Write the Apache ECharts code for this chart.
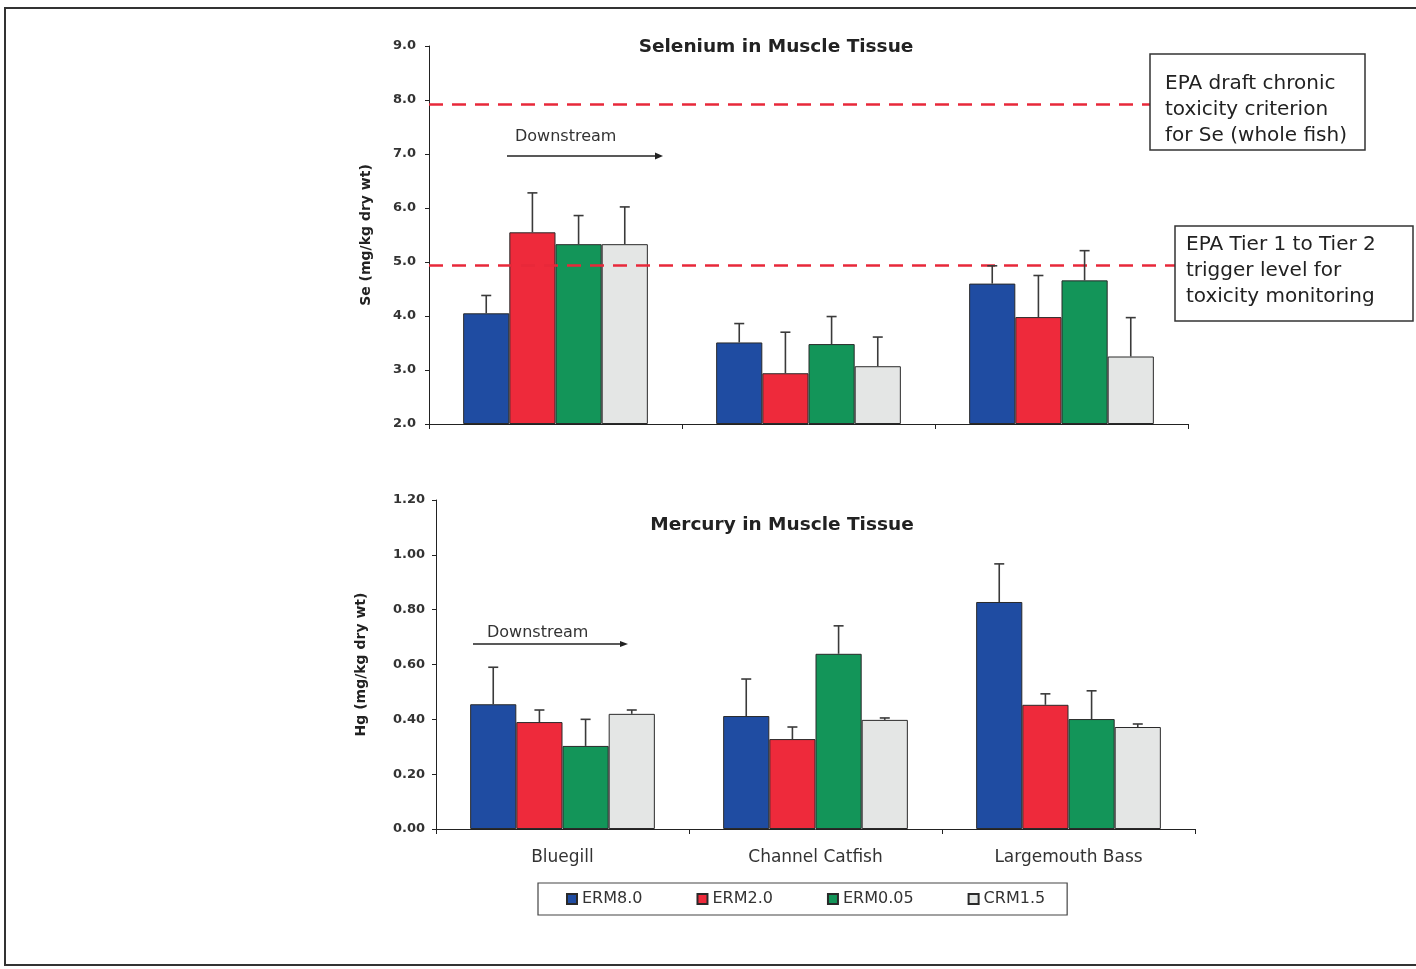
<!DOCTYPE html>
<html>
<head>
<meta charset="utf-8">
<script src="https://cdn.jsdelivr.net/npm/echarts@6/dist/echarts.min.js"></script>
<style>
html,body{margin:0;padding:0;background:#fff;}
#c{width:1416px;height:969px;}
</style>
</head>
<body>
<div id="c"></div>
<script>
// ---- data ----
const categories = ['Bluegill', 'Channel Catfish', 'Largemouth Bass'];
const seriesNames = ['ERM8.0', 'ERM2.0', 'ERM0.05', 'CRM1.5'];
// Selenium means (mg/kg dry wt), per series, per category
const seERM80 = [4.05, 3.51, 4.60];
const seERM20 = [5.55, 2.94, 3.98];
const seERM005 = [5.33, 3.48, 4.66];
const seCRM15 = [5.33, 3.07, 3.25];
// Selenium upper error (amount above mean)
const seErrERM80 = [0.33, 0.35, 0.33];
const seErrERM20 = [0.73, 0.76, 0.77];
const seErrERM005 = [0.53, 0.51, 0.55];
const seErrCRM15 = [0.69, 0.54, 0.72];
// Mercury means
const hgERM80 = [0.455, 0.412, 0.828];
const hgERM20 = [0.390, 0.328, 0.453];
const hgERM005 = [0.303, 0.639, 0.401];
const hgCRM15 = [0.420, 0.398, 0.372];
// Mercury upper error
const hgErrERM80 = [0.135, 0.135, 0.139];
const hgErrERM20 = [0.044, 0.044, 0.040];
const hgErrERM005 = [0.097, 0.102, 0.103];
const hgErrCRM15 = [0.014, 0.007, 0.011];
// reference levels (Se)
const seChronicCriterion = 7.93;
const seTriggerLevel = 4.94;
// axis ticks
const seTicks = {min: 2, max: 9, interval: 1};
const hgTicks = {min: 0, max: 1.2, interval: 0.2};

const colors = ['#1F4CA2', '#EE2A3B', '#139559', '#E4E6E5'];
const barGapRatio = 0.27;
const FONT = 'DejaVu Sans, Liberation Sans, Arial, sans-serif';

const seMeans = [seERM80, seERM20, seERM005, seCRM15];
const seErrs = [seErrERM80, seErrERM20, seErrERM005, seErrCRM15];
const hgMeans = [hgERM80, hgERM20, hgERM005, hgCRM15];
const hgErrs = [hgErrERM80, hgErrERM20, hgErrERM005, hgErrCRM15];

function errData(means, errs) {
  const out = [];
  means.forEach((arr, s) => arr.forEach((m, c) => out.push([c, m + errs[s][c], m, s])));
  return out;
}
function errRender(params, api) {
  const c = api.value(0), top = api.value(1), mean = api.value(2), s = api.value(3);
  const pt = api.coord([c, top]);
  const pb = api.coord([c, mean]);
  const band = api.size([1, 0])[0];
  const bw = band * (1 - barGapRatio) / 4;
  const x = pt[0] + (s - 1.5) * bw;
  const st = {stroke: '#3a3a3a', lineWidth: 1.6};
  return {type: 'group', children: [
    {type: 'line', shape: {x1: x, y1: pb[1], x2: x, y2: pt[1]}, style: st},
    {type: 'line', shape: {x1: x - 5, y1: pt[1], x2: x + 5, y2: pt[1]}, style: st}
  ]};
}

function makeBars(means, gi) {
  return means.map((arr, s) => ({
    name: seriesNames[s], type: 'bar', xAxisIndex: gi, yAxisIndex: gi,
    data: arr, barGap: '0%', barCategoryGap: (barGapRatio * 100) + '%',
    itemStyle: {color: colors[s], borderColor: '#2a2a2a', borderWidth: 1},
    emphasis: {disabled: true}, z: 2
  }));
}

const dashed = {color: '#E8283A', width: 2.5, type: [14, 9]};
const bars0 = makeBars(seMeans, 0);
bars0[0].markLine = {
  silent: true, symbol: 'none', label: {show: false},
  lineStyle: dashed,
  data: [{yAxis: seChronicCriterion}, {yAxis: seTriggerLevel}]
};

const tickLabel = {fontSize: 13, fontWeight: 'bold', color: '#333', fontFamily: FONT};
const nameStyle = {fontSize: 14, fontWeight: 'bold', color: '#222', fontFamily: FONT};

const option = {
  animation: false,
  backgroundColor: '#fff',
  textStyle: {fontFamily: FONT},
  grid: [
    {left: 429, top: 46, right: 228, bottom: 545},
    {left: 436, top: 500, right: 221, bottom: 140}
  ],
  xAxis: [
    {type: 'category', gridIndex: 0, data: categories,
      axisLine: {lineStyle: {color: '#222', width: 1}},
      axisTick: {show: true, length: 5, lineStyle: {color: '#222'}},
      axisLabel: {show: false}},
    {type: 'category', gridIndex: 1, data: categories,
      axisLine: {lineStyle: {color: '#222', width: 1}},
      axisTick: {show: true, length: 5, lineStyle: {color: '#222'}},
      axisLabel: {show: true, margin: 20, fontSize: 17, color: '#333', fontFamily: FONT}}
  ],
  yAxis: [
    {type: 'value', gridIndex: 0, min: seTicks.min, max: seTicks.max, interval: seTicks.interval, startValue: seTicks.min,
      name: 'Se (mg/kg dry wt)', nameLocation: 'middle', nameGap: 56, nameRotate: 90,
      nameTextStyle: nameStyle,
      axisLine: {show: true, lineStyle: {color: '#222', width: 1}},
      axisTick: {show: true, length: 4, lineStyle: {color: '#222'}},
      splitLine: {show: false},
      axisLabel: Object.assign({margin: 13, formatter: v => v.toFixed(1)}, tickLabel)},
    {type: 'value', gridIndex: 1, min: hgTicks.min, max: hgTicks.max, interval: hgTicks.interval,
      name: 'Hg (mg/kg dry wt)', nameLocation: 'middle', nameGap: 68, nameRotate: 90,
      nameTextStyle: nameStyle,
      axisLine: {show: true, lineStyle: {color: '#222', width: 1}},
      axisTick: {show: true, length: 4, lineStyle: {color: '#222'}},
      splitLine: {show: false},
      axisLabel: Object.assign({margin: 11, formatter: v => v.toFixed(2)}, tickLabel)}
  ],
  legend: {
    data: seriesNames, left: 538, top: 883,
    padding: [8, 22, 8, 28], itemGap: 54, itemWidth: 10, itemHeight: 10,
    borderColor: '#444', borderWidth: 1.2, borderRadius: 0,
    textStyle: {fontSize: 16, color: '#333', fontFamily: FONT},
    icon: 'rect'
  },
  series: [
    ...bars0,
    ...makeBars(hgMeans, 1),
    {type: 'custom', xAxisIndex: 0, yAxisIndex: 0, data: errData(seMeans, seErrs), renderItem: errRender, z: 5, silent: true},
    {type: 'custom', xAxisIndex: 1, yAxisIndex: 1, data: errData(hgMeans, hgErrs), renderItem: errRender, z: 5, silent: true}
  ],
  graphic: [
    // page frame
    {type: 'rect', shape: {x: 5, y: 8, width: 1430, height: 957}, style: {fill: null, stroke: '#333', lineWidth: 2}, z: 100},
    // titles
    {type: 'text', x: 776, y: 47, style: {text: 'Selenium in Muscle Tissue', font: 'bold 18.5px ' + FONT, fill: '#222', align: 'center', verticalAlign: 'middle'}},
    {type: 'text', x: 782, y: 525, style: {text: 'Mercury in Muscle Tissue', font: 'bold 18.5px ' + FONT, fill: '#222', align: 'center', verticalAlign: 'middle'}},
    // downstream arrows
    {type: 'text', x: 515, y: 137, style: {text: 'Downstream', font: '16px ' + FONT, fill: '#333', verticalAlign: 'middle'}},
    {type: 'line', shape: {x1: 507, y1: 156, x2: 658, y2: 156}, style: {stroke: '#222', lineWidth: 1.5}},
    {type: 'polygon', shape: {points: [[663, 156], [655, 152.5], [655, 159.5]]}, style: {fill: '#222'}},
    {type: 'text', x: 487, y: 633, style: {text: 'Downstream', font: '16px ' + FONT, fill: '#333', verticalAlign: 'middle'}},
    {type: 'line', shape: {x1: 473, y1: 644, x2: 623, y2: 644}, style: {stroke: '#222', lineWidth: 1.5}},
    {type: 'polygon', shape: {points: [[628, 644], [620, 641], [620, 647]]}, style: {fill: '#222'}},
    // annotation boxes
    {type: 'rect', shape: {x: 1150, y: 54, width: 215, height: 96}, style: {fill: '#fff', stroke: '#333', lineWidth: 1.5}, z: 50},
    {type: 'text', x: 1165, y: 71, z: 51, style: {text: 'EPA draft chronic\ntoxicity criterion\nfor Se (whole fish)', font: '20px ' + FONT, fill: '#222', lineHeight: 26}},
    {type: 'rect', shape: {x: 1175, y: 226, width: 238, height: 95}, style: {fill: '#fff', stroke: '#333', lineWidth: 1.5}, z: 50},
    {type: 'text', x: 1186, y: 232, z: 51, style: {text: 'EPA Tier 1 to Tier 2\ntrigger level for\ntoxicity monitoring', font: '20px ' + FONT, fill: '#222', lineHeight: 26}}
  ]
};

const chart = echarts.init(document.getElementById('c'), null, {renderer: 'canvas'});
chart.setOption(option);
</script>
</body>
</html>
